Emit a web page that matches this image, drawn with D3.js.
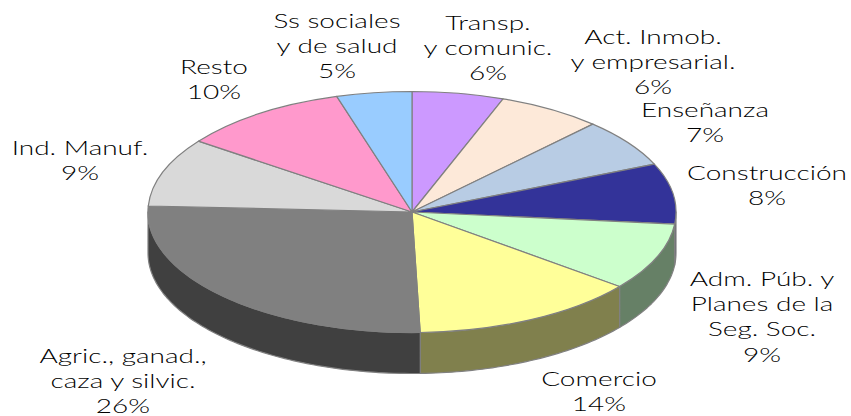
<!DOCTYPE html>
<html><head><meta charset="utf-8">
<script src="https://cdn.jsdelivr.net/npm/d3@7"></script>
<style>html,body{margin:0;background:#fff}svg{display:block}text{font-family:Lato,sans-serif;fill:#000}</style>
</head><body><svg id="c" width="851" height="416"></svg>
<script>
const categories = ["Transp.\ny comunic.","Act. Inmob.\ny empresarial.","Enseñanza","Construcción","Adm. Púb. y\nPlanes de la\nSeg. Soc.","Comercio","Agric., ganad.,\ncaza y silvic.","Ind. Manuf.","Resto","Ss sociales\ny de salud"];
const percentLabels = [6,6,7,8,9,14,26,9,10,5];
const visibleShares = [5.6,6.4,6.5,8.1,9,13.9,26.3,9.2,10.4,4.6];
const topColors = ["#CC99FF","#FDE9D9","#B8CCE4","#333399","#CCFFCC","#FFFF99","#808080","#D9D9D9","#FF99CC","#99CCFF"];
const sideColors = ["#665080","#80756D","#5C6672","#1A1A4D","#668066","#80804D","#404040","#6D6D6D","#804D66","#4D6680"];
const labelX = [488,653,705,767,762,599,123,80,214,337];
const labelY = [30,44,117,180,286,386,363,155,74,28];
const cx=412, cy=212, rx=264, ry=120.5, depth=41;
const svg=d3.select("#c");
const px=d3.scaleLinear().domain([-1,1]).range([cx-rx,cx+rx]);
const py=d3.scaleLinear().domain([-1,1]).range([cy-ry,cy+ry]);
const pie=d3.pie().sort(null)(visibleShares);
const front=[Math.PI/2,Math.PI*1.5];
const wallLine=d3.line();
const walls=pie.map((d,i)=>{
  const a0=Math.max(d.startAngle,front[0]),a1=Math.min(d.endAngle,front[1]);
  if(a1<=a0) return null;
  const n=Math.ceil((a1-a0)/0.02);
  const as=d3.range(n+1).map(k=>a0+(a1-a0)*k/n);
  const top=as.map(a=>[px(Math.sin(a)),py(-Math.cos(a))]);
  const bot=as.slice().reverse().map(a=>[px(Math.sin(a)),py(-Math.cos(a))+depth]);
  return {i,d:wallLine(top.concat(bot))+"Z"};
}).filter(Boolean);
svg.append("g").selectAll("path").data(walls).join("path")
  .attr("d",w=>w.d).attr("fill",w=>sideColors[w.i]).attr("stroke","#808080").attr("stroke-width",1.2).attr("stroke-linejoin","round");
const arc=d3.arc().innerRadius(0).outerRadius(1);
svg.append("g").attr("transform",`translate(${cx},${cy}) scale(${rx},${ry})`)
  .selectAll("path").data(pie).join("path")
  .attr("d",arc).attr("fill",(d,i)=>topColors[i])
  .attr("stroke","#808080").attr("stroke-width",1.2).attr("vector-effect","non-scaling-stroke").attr("stroke-linejoin","round");
const lineGap=25.2, fs=20, sx=1.4;
categories.forEach((c,i)=>{
  const lines=c.split("\n").concat(percentLabels[i]+"%");
  const t=svg.append("text").attr("text-anchor","middle").attr("font-size",fs).attr("font-weight",300)
    .attr("transform",`translate(${labelX[i]},${labelY[i]}) scale(${sx},1)`);
  lines.forEach((l,k)=>t.append("tspan").attr("x",0).attr("y",k*lineGap).text(l));
});
</script></body></html>
